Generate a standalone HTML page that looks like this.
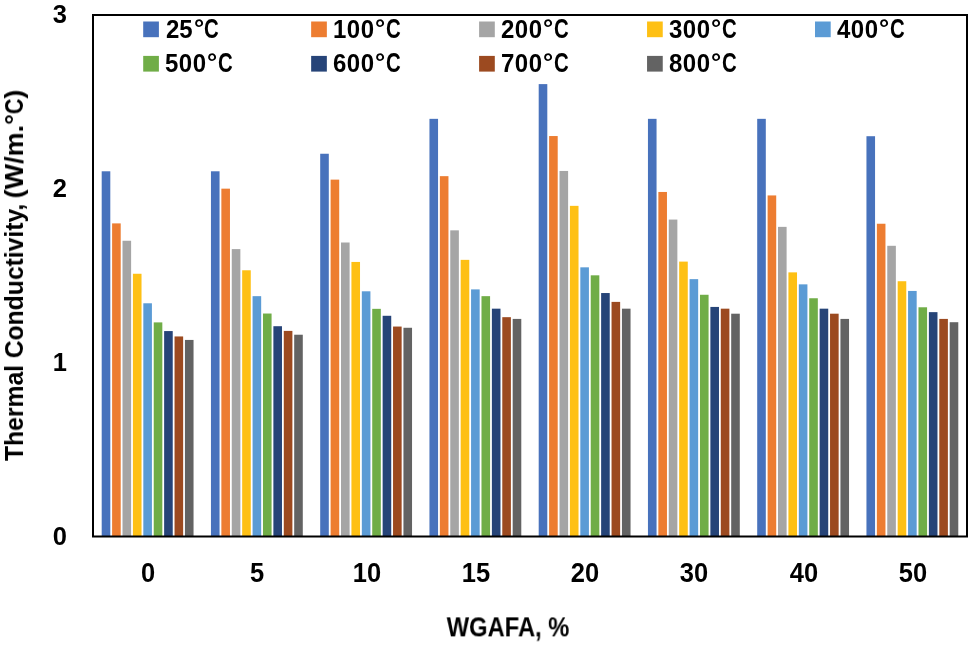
<!DOCTYPE html>
<html><head><meta charset="utf-8">
<style>
html,body{margin:0;padding:0;background:#fff;}
body{width:968px;height:646px;position:relative;overflow:hidden;font-family:"Liberation Sans",sans-serif;font-weight:bold;color:#000;}
svg{position:absolute;left:0;top:0;}
.lt{position:absolute;will-change:transform;font-size:24px;line-height:30px;white-space:nowrap;transform:scaleY(1.09);transform-origin:0 23.3px;}
.dg{display:inline-block;font-size:25px;line-height:0;transform:scale(1.02,0.86);transform-origin:50% 0;position:relative;top:-0.8px;margin-left:0.8px;}
.cc{display:inline-block;transform:scale(0.85,1.05);transform-origin:0 23px;margin-left:0.4px;}
.cl{position:absolute;will-change:transform;width:100px;text-align:center;font-size:25.5px;line-height:30px;transform:scaleY(1.05);transform-origin:50% 5.7px;}
.yl{position:absolute;will-change:transform;width:67px;text-align:right;font-size:25.5px;line-height:30px;transform:scaleY(1.03);transform-origin:50% 15px;}
.yt{position:absolute;will-change:transform;left:14px;top:274.5px;white-space:nowrap;font-size:25px;line-height:30px;transform:translate(-50%,-50%) rotate(-90deg);}
.xt{position:absolute;will-change:transform;left:407.6px;top:612.3px;width:200px;text-align:center;font-size:25px;line-height:30px;transform:scale(0.95,1.07);transform-origin:50% 23.7px;}
</style></head><body>
<svg width="968" height="646" viewBox="0 0 968 646">
<rect x="101.70" y="171.29" width="8.60" height="365.21" fill="#4872BC"/>
<rect x="112.11" y="223.39" width="8.60" height="313.11" fill="#ED7D31"/>
<rect x="122.51" y="240.76" width="8.60" height="295.74" fill="#A5A5A5"/>
<rect x="132.92" y="273.76" width="8.60" height="262.74" fill="#FEC014"/>
<rect x="143.32" y="303.28" width="8.60" height="233.22" fill="#5B9BD5"/>
<rect x="153.73" y="322.39" width="8.60" height="214.11" fill="#70AD47"/>
<rect x="164.13" y="331.07" width="8.60" height="205.43" fill="#264478"/>
<rect x="174.54" y="336.45" width="8.60" height="200.05" fill="#9C4A20"/>
<rect x="184.94" y="339.93" width="8.60" height="196.57" fill="#636363"/>
<rect x="210.95" y="171.29" width="8.60" height="365.21" fill="#4872BC"/>
<rect x="221.36" y="188.66" width="8.60" height="347.84" fill="#ED7D31"/>
<rect x="231.76" y="249.10" width="8.60" height="287.40" fill="#A5A5A5"/>
<rect x="242.17" y="270.28" width="8.60" height="266.22" fill="#FEC014"/>
<rect x="252.57" y="296.16" width="8.60" height="240.34" fill="#5B9BD5"/>
<rect x="262.98" y="313.53" width="8.60" height="222.97" fill="#70AD47"/>
<rect x="273.38" y="326.21" width="8.60" height="210.29" fill="#264478"/>
<rect x="283.79" y="330.90" width="8.60" height="205.60" fill="#9C4A20"/>
<rect x="294.19" y="334.72" width="8.60" height="201.78" fill="#636363"/>
<rect x="320.20" y="153.75" width="8.60" height="382.75" fill="#4872BC"/>
<rect x="330.61" y="179.63" width="8.60" height="356.87" fill="#ED7D31"/>
<rect x="341.01" y="242.50" width="8.60" height="294.00" fill="#A5A5A5"/>
<rect x="351.42" y="261.95" width="8.60" height="274.55" fill="#FEC014"/>
<rect x="361.82" y="291.30" width="8.60" height="245.20" fill="#5B9BD5"/>
<rect x="372.23" y="308.84" width="8.60" height="227.66" fill="#70AD47"/>
<rect x="382.63" y="315.79" width="8.60" height="220.71" fill="#264478"/>
<rect x="393.04" y="326.55" width="8.60" height="209.95" fill="#9C4A20"/>
<rect x="403.44" y="327.77" width="8.60" height="208.73" fill="#636363"/>
<rect x="429.45" y="118.84" width="8.60" height="417.66" fill="#4872BC"/>
<rect x="439.86" y="176.16" width="8.60" height="360.34" fill="#ED7D31"/>
<rect x="450.26" y="230.34" width="8.60" height="306.16" fill="#A5A5A5"/>
<rect x="460.67" y="259.86" width="8.60" height="276.64" fill="#FEC014"/>
<rect x="471.07" y="289.39" width="8.60" height="247.11" fill="#5B9BD5"/>
<rect x="481.48" y="296.16" width="8.60" height="240.34" fill="#70AD47"/>
<rect x="491.88" y="308.67" width="8.60" height="227.83" fill="#264478"/>
<rect x="502.29" y="317.18" width="8.60" height="219.32" fill="#9C4A20"/>
<rect x="512.69" y="318.91" width="8.60" height="217.59" fill="#636363"/>
<rect x="538.70" y="84.11" width="8.60" height="452.39" fill="#4872BC"/>
<rect x="549.11" y="136.04" width="8.60" height="400.46" fill="#ED7D31"/>
<rect x="559.51" y="170.95" width="8.60" height="365.55" fill="#A5A5A5"/>
<rect x="569.92" y="205.85" width="8.60" height="330.65" fill="#FEC014"/>
<rect x="580.32" y="267.33" width="8.60" height="269.17" fill="#5B9BD5"/>
<rect x="590.73" y="275.32" width="8.60" height="261.18" fill="#70AD47"/>
<rect x="601.13" y="293.04" width="8.60" height="243.46" fill="#264478"/>
<rect x="611.54" y="301.89" width="8.60" height="234.61" fill="#9C4A20"/>
<rect x="621.94" y="308.67" width="8.60" height="227.83" fill="#636363"/>
<rect x="647.95" y="118.84" width="8.60" height="417.66" fill="#4872BC"/>
<rect x="658.36" y="191.96" width="8.60" height="344.54" fill="#ED7D31"/>
<rect x="668.76" y="219.57" width="8.60" height="316.93" fill="#A5A5A5"/>
<rect x="679.17" y="261.60" width="8.60" height="274.90" fill="#FEC014"/>
<rect x="689.57" y="279.14" width="8.60" height="257.36" fill="#5B9BD5"/>
<rect x="699.98" y="294.77" width="8.60" height="241.73" fill="#70AD47"/>
<rect x="710.38" y="306.93" width="8.60" height="229.57" fill="#264478"/>
<rect x="720.79" y="308.67" width="8.60" height="227.83" fill="#9C4A20"/>
<rect x="731.19" y="313.70" width="8.60" height="222.80" fill="#636363"/>
<rect x="757.20" y="118.84" width="8.60" height="417.66" fill="#4872BC"/>
<rect x="767.61" y="195.43" width="8.60" height="341.07" fill="#ED7D31"/>
<rect x="778.01" y="226.87" width="8.60" height="309.63" fill="#A5A5A5"/>
<rect x="788.42" y="272.37" width="8.60" height="264.13" fill="#FEC014"/>
<rect x="798.82" y="284.35" width="8.60" height="252.15" fill="#5B9BD5"/>
<rect x="809.23" y="298.25" width="8.60" height="238.25" fill="#70AD47"/>
<rect x="819.63" y="308.67" width="8.60" height="227.83" fill="#264478"/>
<rect x="830.04" y="313.70" width="8.60" height="222.80" fill="#9C4A20"/>
<rect x="840.44" y="318.91" width="8.60" height="217.59" fill="#636363"/>
<rect x="866.45" y="136.21" width="8.60" height="400.29" fill="#4872BC"/>
<rect x="876.86" y="223.74" width="8.60" height="312.76" fill="#ED7D31"/>
<rect x="887.26" y="245.80" width="8.60" height="290.70" fill="#A5A5A5"/>
<rect x="897.67" y="281.23" width="8.60" height="255.27" fill="#FEC014"/>
<rect x="908.07" y="290.95" width="8.60" height="245.55" fill="#5B9BD5"/>
<rect x="918.48" y="307.28" width="8.60" height="229.22" fill="#70AD47"/>
<rect x="928.88" y="312.14" width="8.60" height="224.36" fill="#264478"/>
<rect x="939.29" y="318.91" width="8.60" height="217.59" fill="#9C4A20"/>
<rect x="949.69" y="322.21" width="8.60" height="214.29" fill="#636363"/>
<rect x="143.20" y="21.50" width="15.7" height="15.7" fill="#4872BC"/>
<rect x="311.15" y="21.50" width="15.7" height="15.7" fill="#ED7D31"/>
<rect x="479.10" y="21.50" width="15.7" height="15.7" fill="#A5A5A5"/>
<rect x="647.05" y="21.50" width="15.7" height="15.7" fill="#FEC014"/>
<rect x="815.00" y="21.50" width="15.7" height="15.7" fill="#5B9BD5"/>
<rect x="143.20" y="55.90" width="15.7" height="15.7" fill="#70AD47"/>
<rect x="311.15" y="55.90" width="15.7" height="15.7" fill="#264478"/>
<rect x="479.10" y="55.90" width="15.7" height="15.7" fill="#9C4A20"/>
<rect x="647.05" y="55.90" width="15.7" height="15.7" fill="#636363"/>
<path d="M93 15 H967 V536.5 H93 Z" fill="none" stroke="#000" stroke-width="2"/>
</svg>
<div class="lt" style="left:166.20px;top:14.70px">25<span class="dg">°</span><span class="cc">C</span></div>
<div class="lt" style="left:333.35px;top:14.70px"><span style="letter-spacing:0.5px">100</span><span class="dg">°</span><span class="cc">C</span></div>
<div class="lt" style="left:501.30px;top:14.70px"><span style="letter-spacing:0.5px">200</span><span class="dg">°</span><span class="cc">C</span></div>
<div class="lt" style="left:669.25px;top:14.70px"><span style="letter-spacing:0.5px">300</span><span class="dg">°</span><span class="cc">C</span></div>
<div class="lt" style="left:837.20px;top:14.70px"><span style="letter-spacing:0.5px">400</span><span class="dg">°</span><span class="cc">C</span></div>
<div class="lt" style="left:165.40px;top:49.10px"><span style="letter-spacing:0.5px">500</span><span class="dg">°</span><span class="cc">C</span></div>
<div class="lt" style="left:333.35px;top:49.10px"><span style="letter-spacing:0.5px">600</span><span class="dg">°</span><span class="cc">C</span></div>
<div class="lt" style="left:501.30px;top:49.10px"><span style="letter-spacing:0.5px">700</span><span class="dg">°</span><span class="cc">C</span></div>
<div class="lt" style="left:669.25px;top:49.10px"><span style="letter-spacing:0.5px">800</span><span class="dg">°</span><span class="cc">C</span></div>
<div class="cl" style="left:98.03px;top:557.4px">0</div>
<div class="cl" style="left:207.28px;top:557.4px">5</div>
<div class="cl" style="left:316.52px;top:557.4px">10</div>
<div class="cl" style="left:425.77px;top:557.4px">15</div>
<div class="cl" style="left:535.02px;top:557.4px">20</div>
<div class="cl" style="left:644.27px;top:557.4px">30</div>
<div class="cl" style="left:753.52px;top:557.4px">40</div>
<div class="cl" style="left:862.77px;top:557.4px">50</div>
<div class="yl" style="left:0px;top:521.05px">0</div>
<div class="yl" style="left:0px;top:347.15px">1</div>
<div class="yl" style="left:0px;top:173.25px">2</div>
<div class="yl" style="left:0px;top:-0.65px">3</div>
<div class="yt" style="top:413.0px;transform:translate(-50%,-50%) rotate(-90deg) scaleX(0.988)">Thermal</div>
<div class="yt" style="top:281.3px;transform:translate(-50%,-50%) rotate(-90deg) scaleX(0.987)">Conductivity,</div>
<div class="yt" style="top:143.6px;transform:translate(-50%,-50%) rotate(-90deg) scaleX(1.079)">(W/m.°<span style="display:inline-block;transform:scaleX(0.8);transform-origin:0 0;margin-right:-3.6px">C</span>)</div>
<div class="xt">WGAFA, %</div>
</body></html>
